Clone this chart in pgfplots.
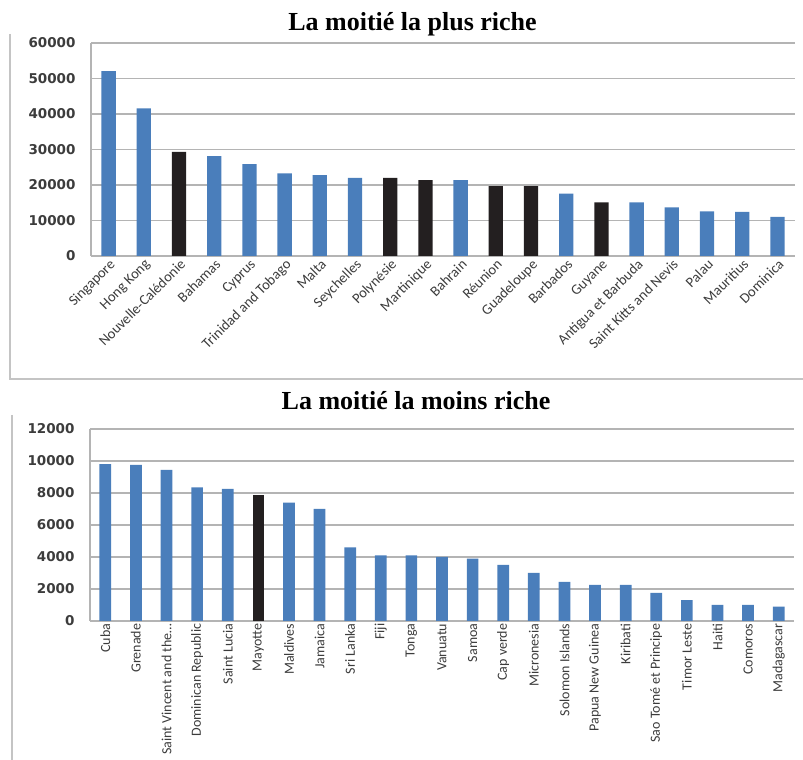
\documentclass[border=0pt]{standalone}
\usepackage{pgfplots}
\pgfplotsset{compat=1.18}
\usepackage{fontspec}
\setmainfont{Carlito}
\newfontfamily\titlefont{Liberation Serif}
\newfontfamily\tickfont{DejaVu Sans}
\definecolor{barblue}{HTML}{4A7EBB}
\definecolor{barblack}{HTML}{231F20}
\definecolor{gridgray}{HTML}{B4B4B4}
\definecolor{labgray}{HTML}{3C3C3C}
\definecolor{framegray}{HTML}{C4C4C4}

\pgfplotsset{
  common/.style={
    anchor=south west, scale only axis,
    axis x line*=bottom, axis y line*=left,
    axis line style={gridgray, line width=1.3pt, -},
    ymajorgrids, major grid style={gridgray, line width=1.3pt},
    major tick length=0pt,
    scaled y ticks=false,
    ymin=0,
    yticklabel style={font=\tickfont\bfseries\fontsize{13.5}{14}\selectfont, text=labgray, anchor=east, xshift=-12pt},
    xtick={0,...,30},
    clip=false,
  },
  bb/.style={ybar, bar shift=0pt, fill=barblue, draw=none},
  bk/.style={ybar, bar shift=0pt, fill=barblack, draw=none},
}

\begin{document}
\begin{tikzpicture}[x=1pt,y=1pt]
\path[use as bounding box] (0,0) rectangle (803,760);
% frames
\draw[framegray, line width=1.4pt] (10,726) -- (10,381) -- (803,381);
\draw[framegray, line width=1.4pt] (12,345) -- (12,0);
% titles
\node[anchor=base, font=\titlefont\bfseries\fontsize{26}{30}\selectfont] at (412.5,729) {La moitié la plus riche};
\node[anchor=base, font=\titlefont\bfseries\fontsize{26}{30}\selectfont] at (416,350.7) {La moitié la moins riche};

\begin{axis}[common, at={(91pt,504pt)}, width=704pt, height=213pt,
  xmin=-0.5, xmax=19.5, ymax=60000,
  ytick={0,10000,20000,30000,40000,50000,60000},
  yticklabels={0,10000,20000,30000,40000,50000,60000},
  bar width=14.3pt,
  xticklabels={Singapore,Hong Kong,Nouvelle-Calédonie,Bahamas,Cyprus,Trinidad and Tobago,Malta,Seychelles,Polynésie,Martinique,Bahrain,Réunion,Guadeloupe,Barbados,Guyane,Antigua et Barbuda,Saint Kitts and Nevis,Palau,Mauritius,Dominica},
  xticklabel style={rotate=45, anchor=north east, inner sep=1.5pt, font=\fontsize{14.5}{15}\selectfont, text=labgray},
]
\addplot[bb] coordinates {(0,52100) (1,41600) (3,28100) (4,25900) (5,23300) (6,22800) (7,22000) (10,21400) (13,17600) (15,15100) (16,13700) (17,12600) (18,12400) (19,11000)};
\addplot[bk] coordinates {(2,29300) (8,22000) (9,21400) (11,19700) (12,19700) (14,15100)};
\end{axis}

\begin{axis}[common, at={(90pt,139pt)}, width=704pt, height=192pt,
  xmin=-0.5, xmax=22.5, ymax=12000,
  ytick={0,2000,4000,6000,8000,10000,12000},
  yticklabels={0,2000,4000,6000,8000,10000,12000},
  bar width=11.7pt,
  xticklabels={Cuba,Grenade,Saint Vincent and the…,Dominican Republic,Saint Lucia,Mayotte,Maldives,Jamaica,Sri Lanka,Fiji,Tonga,Vanuatu,Samoa,Cap verde,Micronesia,Solomon Islands,Papua New Guinea,Kiribati,Sao Tomé et Principe,Timor Leste,Haiti,Comoros,Madagascar},
  xticklabel style={rotate=90, anchor=east, inner sep=2.5pt, font=\fontsize{14}{15}\selectfont, text=labgray},
]
\addplot[bb] coordinates {(0,9800) (1,9750) (2,9450) (3,8350) (4,8250) (6,7400) (7,7000) (8,4600) (9,4100) (10,4100) (11,4000) (12,3900) (13,3500) (14,3000) (15,2450) (16,2250) (17,2250) (18,1750) (19,1300) (20,1000) (21,1000) (22,900)};
\addplot[bk] coordinates {(5,7850)};
\end{axis}
\end{tikzpicture}
\end{document}
